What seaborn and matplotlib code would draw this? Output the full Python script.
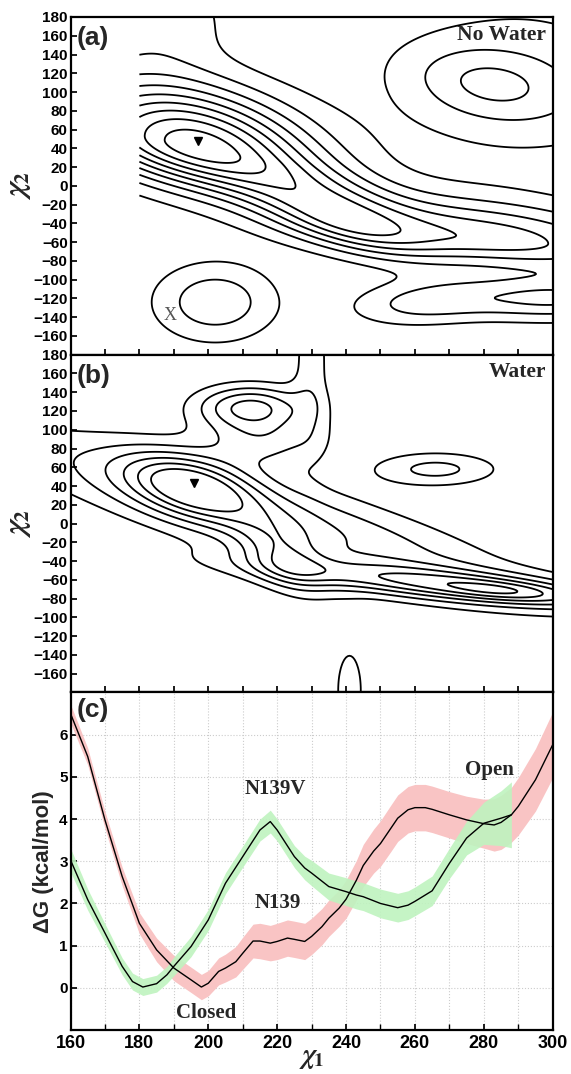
import numpy as np
import matplotlib
matplotlib.use("Agg")
import matplotlib.pyplot as plt
import seaborn as sns

# ---------------- panel (c): 1-D free-energy profiles along chi1 ----------------
chi1_n139 = [160, 165, 170, 175, 180, 185, 190, 195, 198, 200, 203, 205, 208, 210,
             213, 215, 218, 220, 223, 225, 228, 230, 233, 235, 238, 240, 243, 245,
             248, 250, 253, 255, 258, 260, 263, 265, 270, 275, 280, 283, 285, 288,
             290, 295, 300]
dg_n139 = [6.50, 5.48, 3.98, 2.64, 1.53, 0.90, 0.47, 0.19, 0.02, 0.11, 0.39, 0.47,
           0.62, 0.82, 1.11, 1.11, 1.06, 1.10, 1.18, 1.15, 1.10, 1.22, 1.45, 1.65,
           1.89, 2.10, 2.55, 2.90, 3.24, 3.42, 3.78, 4.02, 4.22, 4.27, 4.27, 4.23,
           4.10, 3.98, 3.89, 3.86, 3.92, 4.10, 4.30, 4.93, 5.76]
err_n139 = [0.22, 0.20, 0.20, 0.22, 0.25, 0.28, 0.30, 0.30, 0.30, 0.30, 0.32, 0.33,
            0.36, 0.38, 0.40, 0.42, 0.42, 0.43, 0.43, 0.43, 0.43, 0.43, 0.43, 0.43,
            0.43, 0.45, 0.47, 0.50, 0.52, 0.54, 0.55, 0.55, 0.55, 0.55, 0.55, 0.55,
            0.55, 0.56, 0.58, 0.62, 0.64, 0.65, 0.68, 0.74, 0.78]

chi1_n139v = [160, 165, 170, 175, 178, 181, 185, 188, 190, 195, 200, 205, 210, 215,
              218, 220, 225, 228, 230, 235, 240, 243, 245, 250, 255, 258, 260, 265,
              270, 275, 280, 285, 288]
dg_n139v = [3.03, 2.09, 1.30, 0.51, 0.15, 0.02, 0.10, 0.31, 0.51, 0.98, 1.61, 2.48,
            3.11, 3.74, 3.94, 3.74, 3.11, 2.84, 2.72, 2.40, 2.28, 2.20, 2.16, 2.00,
            1.90, 1.96, 2.05, 2.30, 2.95, 3.55, 3.90, 4.02, 4.10]
err_n139v = [0.28, 0.25, 0.22, 0.20, 0.20, 0.20, 0.20, 0.20, 0.22, 0.24, 0.25, 0.25,
             0.25, 0.26, 0.27, 0.26, 0.26, 0.28, 0.30, 0.32, 0.33, 0.33, 0.33, 0.34,
             0.34, 0.34, 0.34, 0.35, 0.36, 0.40, 0.50, 0.65, 0.78]

# ---------------- panels (a)/(b): chi1/chi2 free-energy basins ----------------
# each basin: centre chi1, centre chi2, depth (kcal/mol), width along chi1,
# width in chi2 above / below the basin axis, shear d(chi2)/d(chi1) of that axis
dry_plateau = 9.8
dry_c1 = [196, 236, 280, 281, 202, 262, 300, 292, 186]
dry_c2 = [43, -30, -55, 110, -124, -125, -120, 95, 180]
dry_depth = [9.3, 4.2, 4.4, 2.0, 2.6, 2.0, 3.0, 1.3, 1.4]
dry_w1 = [24, 18, 34, 16, 12, 14, 20, 28, 14]
dry_w2_up = [43, 30, 28, 26, 28, 16, 16, 80, 40]
dry_w2_dn = [30, 22, 20, 26, 28, 16, 16, 50, 40]
dry_shear = [-0.7, -1.1, -0.35, -0.4, 0.0, 0.2, 0.0, 0.0, 0.0]
dry_levels = [1, 2, 3, 4, 5, 6, 7, 8, 9]

wet_plateau = 7.0
wet_c1 = [195, 215, 222, 212, 216, 270, 286, 266, 230, 241]
wet_c2 = [40, 10, -36, 125, 90, -65, -72, 58, 175, -178]
wet_depth = [5.0, 3.3, 2.9, 4.0, 2.4, 4.0, 1.5, 2.3, 1.5, 1.4]
wet_w1 = [13, 50, 9, 11, 12, 40, 12, 13, 4, 4]
wet_w2_up = [22, 30, 24, 16, 20, 12, 7, 13, 60, 45]
wet_w2_dn = [22, 30, 24, 16, 20, 12, 7, 13, 60, 45]
wet_shear = [-0.8, -1.0, -1.5, 0.0, 0.0, -0.35, -0.3, 0.0, 0.0, 0.0]
wet_levels = [1, 2, 3, 4, 5, 6]

min_dry = (197, 48)
min_wet = (196, 43)
x_mark = (189, -138)


def free_energy(plateau, c1, c2, depth, w1, w2u, w2d, shear, g1, g2):
    field = np.full_like(g1, plateau)
    for a, b, d, s1, su, sd, k in zip(c1, c2, depth, w1, w2u, w2d, shear):
        dx = g1 - a
        dy = g2 - b - k * dx
        s2 = np.where(dy > 0, su, sd)
        field -= d * np.exp(-0.5 * (dx / s1) ** 2 - 0.5 * (dy / s2) ** 2)
    return field


sns.set_theme(style="ticks")
plt.rcParams.update({
    "font.family": ["Liberation Sans", "DejaVu Sans"],
    "font.weight": "bold",
    "axes.linewidth": 1.6,
    "axes.edgecolor": "black",
    "xtick.direction": "in",
    "ytick.direction": "in",
    "xtick.major.size": 4,
    "ytick.major.size": 4,
    "xtick.color": "black",
    "ytick.color": "black",
    "mathtext.fontset": "stix",
})

W, H = 571, 1074
fig = plt.figure(figsize=(W / 100, H / 100), dpi=100)
left, right = 70.5 / W, 552.7 / W
ph = 337.7 / H
top = 1 - 17 / H
ax_a = fig.add_axes([left, top - ph, right - left, ph])
ax_b = fig.add_axes([left, top - 2 * ph, right - left, ph])
ax_c = fig.add_axes([left, top - 3 * ph, right - left, ph])

g1, g2 = np.meshgrid(np.linspace(160, 300, 281), np.linspace(-180, 180, 361))

# panel (a): no water, sampled only for chi1 >= 180
e_dry = free_energy(dry_plateau, dry_c1, dry_c2, dry_depth, dry_w1, dry_w2_up,
                    dry_w2_dn, dry_shear, g1, g2)
e_dry = np.ma.masked_where(g1 < 180, e_dry)
ax_a.contour(g1, g2, e_dry, levels=dry_levels, colors="black", linewidths=1.3)
ax_a.plot(*min_dry, marker="v", color="black", markersize=6)
ax_a.text(*x_mark, "X", family="Liberation Serif", fontsize=13, color="#555555",
          ha="center", va="center", weight="normal")

# panel (b): water
e_wet = free_energy(wet_plateau, wet_c1, wet_c2, wet_depth, wet_w1, wet_w2_up,
                    wet_w2_dn, wet_shear, g1, g2)
ax_b.contour(g1, g2, e_wet, levels=wet_levels, colors="black", linewidths=1.3)
ax_b.plot(*min_wet, marker="v", color="black", markersize=6)

for ax, tag, name in [(ax_a, "(a)", "No Water"), (ax_b, "(b)", "Water")]:
    ax.set_xlim(160, 300)
    ax.set_ylim(-180, 180)
    ax.set_xticks(np.arange(160, 301, 10))
    ax.set_xticklabels([])
    ax.set_yticks(np.arange(-160, 181, 20))
    ax.tick_params(axis="y", labelsize=11, pad=2)
    ax.set_ylabel(r"$\chi_2$", fontsize=22, labelpad=0)
    ax.text(0.013, 0.972, tag, transform=ax.transAxes, fontsize=19,
            weight="bold", ha="left", va="top")
    ax.text(0.986, 0.977, name, transform=ax.transAxes, family="Liberation Serif",
            fontsize=15.5, weight="bold", ha="right", va="top")

# panel (c): profiles with uncertainty bands
lo = np.array(dg_n139) - np.array(err_n139)
hi = np.array(dg_n139) + np.array(err_n139)
ax_c.fill_between(chi1_n139, lo, hi, color="#f9c4c4", lw=0, zorder=1)
lo = np.array(dg_n139v) - np.array(err_n139v)
hi = np.array(dg_n139v) + np.array(err_n139v)
ax_c.fill_between(chi1_n139v, lo, hi, color="#bff3bf", lw=0, alpha=0.9, zorder=2)
sns.lineplot(x=chi1_n139, y=dg_n139, ax=ax_c, color="black", lw=1.0, zorder=3)
sns.lineplot(x=chi1_n139v, y=dg_n139v, ax=ax_c, color="black", lw=1.0, zorder=3)

ax_c.set_xlim(160, 300)
ax_c.set_ylim(-1, 7)
ax_c.set_xticks(np.arange(160, 301, 20))
ax_c.set_xticks(np.arange(170, 300, 20), minor=True)
ax_c.set_yticks(np.arange(0, 7, 1))
ax_c.tick_params(axis="x", which="both", labelsize=13, length=4, direction="in")
ax_c.tick_params(axis="y", labelsize=11, pad=2)
ax_c.grid(True, which="both", axis="both", color="#cccccc", ls=":", lw=0.8)
ax_c.set_axisbelow(True)
ax_c.set_xlabel(r"$\chi_1$", fontsize=20, labelpad=-5)
ax_c.set_ylabel("ΔG (kcal/mol)", fontsize=16, weight="bold", labelpad=4)
ax_c.text(0.013, 0.982, "(c)", transform=ax_c.transAxes, fontsize=19,
          weight="bold", ha="left", va="top")
serif = dict(family="Liberation Serif", fontsize=15, weight="bold", ha="center", va="center")
ax_c.text(219.4, 4.7, "N139V", **serif)
ax_c.text(220.3, 2.0, "N139", **serif)
ax_c.text(281.7, 5.16, "Open", **serif)
ax_c.text(199.3, -0.6, "Closed", **serif)

for ax in (ax_a, ax_b, ax_c):
    for s in ax.spines.values():
        s.set_visible(True)
        s.set_linewidth(1.6)
    for lab in ax.get_yticklabels() + ax.get_xticklabels():
        lab.set_fontweight("bold")

fig.savefig("out.png", dpi=100)
